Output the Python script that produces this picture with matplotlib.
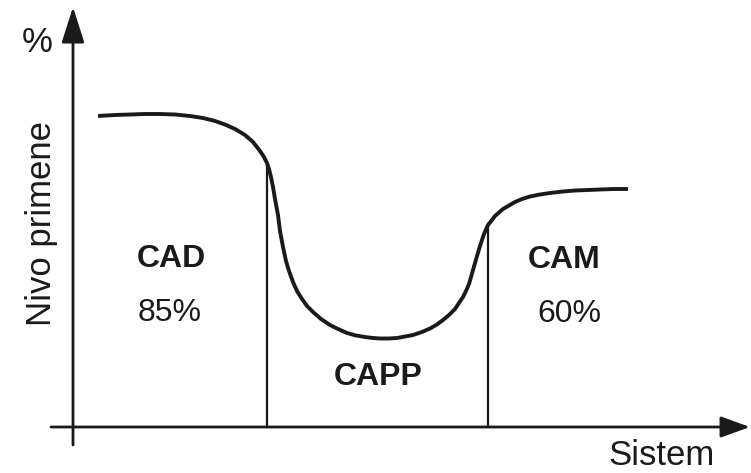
import numpy as np
import matplotlib
matplotlib.use("Agg")
import matplotlib.pyplot as plt
from matplotlib.patches import FancyArrowPatch

plt.rcParams['font.family'] = ['Liberation Sans', 'DejaVu Sans']

# usage level curve along the system axis (origin at axis crossing)
sistem = [25, 42, 57, 72, 87, 102, 117, 130, 142, 152, 162, 172, 180, 187,
          191, 194, 196, 198, 200, 202, 205, 207, 210, 213, 216, 220, 224,
          229, 234, 240, 248, 257, 265, 274, 283, 292, 300, 307, 315, 324,
          332, 340, 349, 357, 364, 370, 376, 382, 386, 390, 393, 396, 398,
          400, 402, 404, 407, 411, 415, 419, 422, 426, 430, 436, 442, 449,
          457, 467, 477, 490, 502, 515, 527, 541, 555]
nivo = [311, 312, 312.5, 313, 313, 312.5, 311, 309, 306, 302.5, 298, 292,
        285, 276, 270, 264, 258, 250, 240, 228, 212, 196, 180, 166, 156, 145,
        136, 128, 121, 115, 108, 102, 98, 94, 91.5, 90, 89, 88.5, 88.5, 89,
        90.5, 92, 95, 98.5, 102.5, 107, 112, 118, 124, 130, 136, 143, 150,
        157, 164, 171, 181, 193, 202, 207, 211, 214.5, 218, 221.5, 225, 228,
        230.5, 232.5, 234, 235.5, 236.5, 237, 237.5, 238, 238]

# borders between the regions
granice = [194, 415]

# region labels
oblasti = ['CAD', 'CAPP', 'CAM']
oblasti_x = [98, 305, 491]
oblasti_y = [160, 42, 159]
procenti = ['85%', '60%']
procenti_x = [97, 496]
procenti_y = [106, 105]

boja = '#1a1a1a'

fig = plt.figure(figsize=(7.51, 4.73), dpi=100)
ax = fig.add_axes([0, 0, 1, 1])
ax.set_xlim(-73, 678)
ax.set_ylim(-46, 427)
ax.axis('off')

# axes with arrows
ax.add_patch(FancyArrowPatch((0, -18), (0, 420), arrowstyle='-|>,head_length=22,head_width=7',
                             mutation_scale=1, lw=2.0, color=boja, shrinkA=0, shrinkB=0))
ax.add_patch(FancyArrowPatch((-22, 0), (677, 0), arrowstyle='-|>,head_length=18,head_width=6.5',
                             mutation_scale=1, lw=2.0, color=boja, shrinkA=0, shrinkB=0))

# curve
ax.plot(sistem, nivo, color=boja, lw=2.8, solid_capstyle='butt', solid_joinstyle='round')

# vertical borders up to the curve
for g in granice:
    ax.plot([g, g], [0, np.interp(g, sistem, nivo)], color=boja, lw=1.6)

for t, x, y in zip(oblasti, oblasti_x, oblasti_y):
    ax.text(x, y, t, ha='center', va='baseline', fontsize=23, fontweight='bold', color=boja)
for t, x, y in zip(procenti, procenti_x, procenti_y):
    ax.text(x, y, t, ha='center', va='baseline', fontsize=23, color=boja)

ax.text(-36, 375, '%', ha='center', va='baseline', fontsize=25, color=boja)
ax.text(-22, 204, 'Nivo primene', ha='center', va='baseline', rotation=90,
        rotation_mode='anchor', fontsize=25, color=boja)
ax.text(588, -38, 'Sistem', ha='center', va='baseline', fontsize=25, color=boja)

fig.savefig('out.png', dpi=100)
